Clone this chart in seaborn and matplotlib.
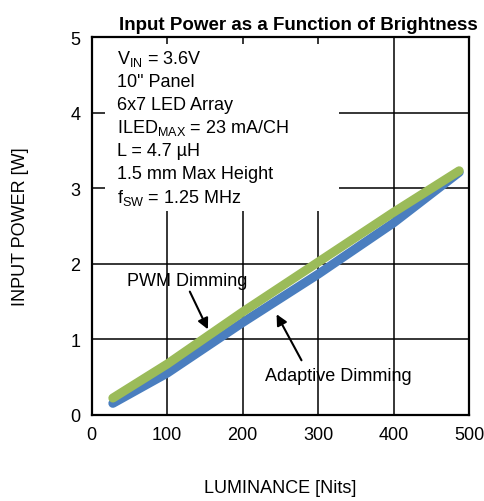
import numpy as np
import pandas as pd
import matplotlib
matplotlib.use("Agg")
import matplotlib.pyplot as plt
import seaborn as sns
from matplotlib.patches import Rectangle

# Data
luminance = [28, 100, 200, 300, 400, 487]
pwm_power = [0.22, 0.67, 1.36, 2.02, 2.68, 3.23]
adaptive_power = [0.15, 0.55, 1.22, 1.86, 2.54, 3.21]
x_ticks = [0, 100, 200, 300, 400, 500]
y_ticks = [0, 1, 2, 3, 4, 5]

sns.set_style("white")
plt.rcParams["font.family"] = ["Liberation Sans", "DejaVu Sans"]
plt.rcParams["mathtext.fontset"] = "custom"
plt.rcParams["mathtext.rm"] = "Liberation Sans"
plt.rcParams["text.color"] = "black"
plt.rcParams["axes.labelcolor"] = "black"

df = pd.DataFrame({
    "Luminance": luminance * 2,
    "Power": adaptive_power + pwm_power,
    "Mode": ["Adaptive Dimming"] * len(luminance) + ["PWM Dimming"] * len(luminance),
})

fig = plt.figure(figsize=(4.84, 5.02), dpi=100)
ax = fig.add_axes([0.1895, 0.172, 0.7795, 0.752])

sns.lineplot(data=df, x="Luminance", y="Power", hue="Mode",
             palette={"Adaptive Dimming": "#4a7ebf", "PWM Dimming": "#9bbb59"},
             linewidth=6.5, ax=ax, legend=False, zorder=3)
for ln in ax.lines:
    ln.set_solid_capstyle("round")
    ln.set_solid_joinstyle("round")

ax.set_xlim(0, 500)
ax.set_ylim(0, 5)
ax.set_xticks(x_ticks)
ax.set_yticks(y_ticks)
ax.tick_params(axis="both", length=0, labelsize=13, pad=8, colors="black")
ax.grid(True, color="black", linewidth=1.1)
ax.set_axisbelow(True)
for s in ax.spines.values():
    s.set_color("black")
    s.set_linewidth(1.6)
    s.set_zorder(5)

ax.set_xlabel("LUMINANCE [Nits]", fontsize=13, labelpad=26)
ax.set_ylabel("INPUT POWER [W]", fontsize=13, labelpad=30)
ax.set_title("Input Power as a Function of Brightness", fontsize=13.5,
             fontweight="bold", pad=6, x=0.547)

# white box behind the conditions text
ax.add_patch(Rectangle((0.036, 0.54), 0.62, 0.442, transform=ax.transAxes,
                       facecolor="white", edgecolor="none", zorder=2))
cond = [r"V$_{\rm IN}$ = 3.6V", "10\" Panel", "6x7 LED Array",
        r"ILED$_{\rm MAX}$ = 23 mA/CH", "L = 4.7 µH", "1.5 mm Max Height",
        r"f$_{\rm SW}$ = 1.25 MHz"]
for i, t in enumerate(cond):
    ax.text(0.068, 0.945 - i * 0.0613, t, transform=ax.transAxes, fontsize=13,
            va="center", ha="left", zorder=4)

ax.text(126, 1.78, "PWM Dimming", fontsize=13, ha="center", va="center", zorder=6)
ax.annotate("", xy=(154, 1.13), xytext=(130, 1.63), zorder=6,
            arrowprops=dict(arrowstyle="-|>", color="black", lw=1.5,
                            mutation_scale=16, shrinkA=0, shrinkB=0))
ax.text(327, 0.52, "Adaptive Dimming", fontsize=13, ha="center", va="center", zorder=6)
ax.annotate("", xy=(245, 1.33), xytext=(278, 0.72), zorder=6,
            arrowprops=dict(arrowstyle="-|>", color="black", lw=1.5,
                            mutation_scale=16, shrinkA=0, shrinkB=0))

fig.savefig("out.png", dpi=100)
